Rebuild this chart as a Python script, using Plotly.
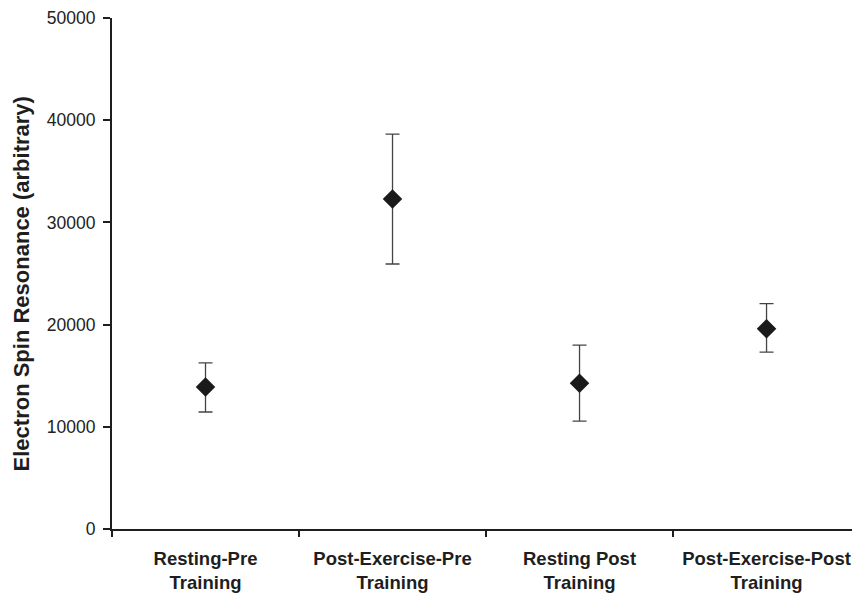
import plotly.graph_objects as go

categories = ["Resting-Pre", "Post-Exercise-Pre", "Resting Post", "Post-Exercise-Post"]
line2 = ["Training", "Training", "Training", "Training"]
means = [13900, 32280, 14250, 19600]
err_plus = [2350, 6350, 3750, 2450]
err_minus = [2450, 6350, 3700, 2300]
y_ticks = [0, 10000, 20000, 30000, 40000, 50000]
y_title = "Electron Spin Resonance (arbitrary)"

FONT = "Liberation Sans, Arial, sans-serif"
DARK = "#1e1e1e"

fig = go.Figure()
fig.add_trace(go.Scatter(
    x=categories, y=means, mode="markers",
    marker=dict(symbol="diamond", size=15, color="#1a1a1a", line=dict(width=0)),
    error_y=dict(type="data", symmetric=False, array=err_plus, arrayminus=err_minus,
                 color="#444444", thickness=1.3, width=7),
    showlegend=False,
))

xr = [-0.5, 3.457]
fig.update_layout(
    width=852, height=593,
    margin=dict(l=112, r=0, t=18, b=64),
    paper_bgcolor="white", plot_bgcolor="white",
    font=dict(family=FONT, color=DARK),
    xaxis=dict(
        type="category", categoryorder="array", categoryarray=categories,
        range=xr, showgrid=False, zeroline=False,
        showline=True, linecolor=DARK, linewidth=2,
        ticks="outside", tickson="boundaries", ticklen=6, tickwidth=1.5, tickcolor=DARK,
        tickfont=dict(family=FONT, size=18.5, color=DARK, weight="bold"),
        ticklabelstandoff=12,
    ),
    xaxis2=dict(
        overlaying="x", anchor="y", side="bottom", range=xr,
        tickmode="array", tickvals=[0, 1, 2, 3], ticktext=line2,
        showgrid=False, zeroline=False, showline=False, ticks="",
        tickfont=dict(family=FONT, size=18.5, color=DARK, weight="bold"),
        ticklabelstandoff=40,
    ),
    yaxis=dict(
        range=[0, 50000], tickvals=y_ticks, ticktext=[str(v) for v in y_ticks],
        showgrid=False, zeroline=False,
        showline=True, linecolor=DARK, linewidth=2,
        ticks="outside", ticklen=7, tickwidth=1.5, tickcolor=DARK,
        tickfont=dict(family=FONT, size=17.5, color="#222222"),
        ticklabelstandoff=4,
    ),
    annotations=[dict(
        text=y_title, textangle=-90, xref="paper", yref="y",
        x=-0.122, y=24000, xanchor="center", yanchor="middle", showarrow=False,
        font=dict(family=FONT, size=22, color=DARK, weight="bold"),
    )],
)
fig.add_trace(go.Scatter(x=[0], y=[0], xaxis="x2", mode="markers",
                         marker=dict(opacity=0), showlegend=False, hoverinfo="skip"))

fig.write_html("out.html")
